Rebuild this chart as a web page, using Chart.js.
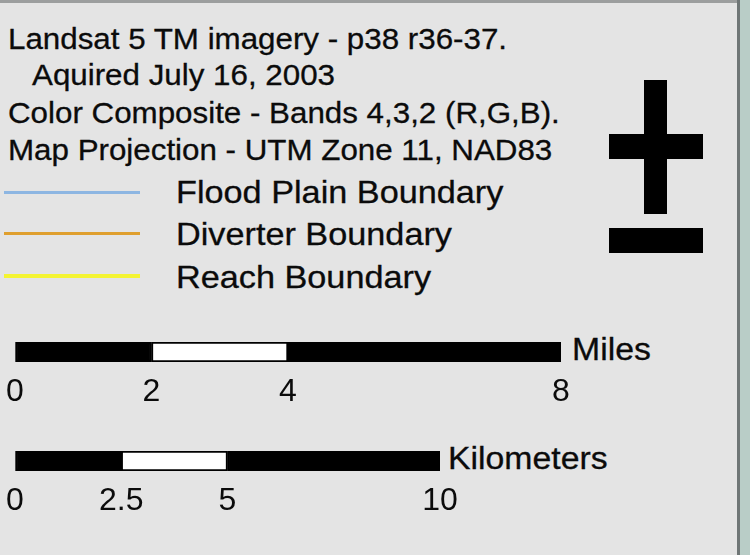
<!DOCTYPE html>
<html>
<head>
<meta charset="utf-8">
<script src="https://cdn.jsdelivr.net/npm/chart.js@4.4.1/dist/chart.umd.min.js"></script>
<style>
  html, body { margin: 0; padding: 0; }
  body { width: 750px; height: 555px; overflow: hidden; background: #e4e4e4; position: relative;
         font-family: "Liberation Sans", Arial, sans-serif; color: #0b0b0b; }
  .t { position: absolute; white-space: nowrap; line-height: 1; transform-origin: 0 0; -webkit-text-stroke: 0.3px #0b0b0b; }
  .h { font-size: 29px; transform: scaleX(1.08); }
  .lg { font-size: 32px; transform: scaleX(1.07); left: 176px; }
  .u { font-size: 31px; transform: scaleX(1.09); }
  .sw { position: absolute; left: 4px; width: 136px; }
  .blk { position: absolute; background: #000; }
  .cv { position: absolute; left: 0; top: 0; width: 750px; height: 555px; }
  #frameTop { position: absolute; left: 0; top: 0; width: 750px; height: 3px; background: #9c9e9e; }
  #frameRight { position: absolute; left: 737px; top: 0; width: 3px; height: 555px; background: #6f7676; }
  #outside { position: absolute; left: 740px; top: 0; width: 10px; height: 555px; background: #b9cdc7; }
</style>
</head>
<body>
<div id="frameTop"></div>
<div id="outside"></div>
<div id="frameRight"></div>

<div id="texts"></div>

<!-- north-arrow style symbol -->
<div class="blk" style="left:644px;top:80px;width:23px;height:134px;"></div>
<div class="blk" style="left:609px;top:134px;width:94px;height:25px;"></div>
<div class="blk" style="left:609px;top:228px;width:94px;height:25px;"></div>

<div class="cv"><canvas id="miles" width="750" height="555"></canvas></div>
<div class="cv"><canvas id="km" width="750" height="555"></canvas></div>

<script>
// ---- data ----
const headerLines = [
  "Landsat 5 TM imagery - p38 r36-37.",
  "  Aquired July 16, 2003",
  "Color Composite - Bands 4,3,2 (R,G,B).",
  "Map Projection - UTM Zone 11, NAD83"
];
const legendLabels = ["Flood Plain Boundary", "Diverter Boundary", "Reach Boundary"];
const unitLabels = ["Miles", "Kilometers"];
const mileTicks = [0, 2, 4, 8];
const kmTicks = [0, 2.5, 5, 10];

// ---- styles / layout (kept separate from data) ----
const headerPos = [[8, 24.5], [32, 60.5], [8, 98.5], [8, 135.5]];
const legendTops = [176, 218, 261];
const legendColors = ["#8db6e2", "#df9f2e", "#f4f432"];
const legendLineY = [190.5, 231.5, 274];
const legendLineH = [3, 3, 4];
const unitPos = [[572, 334], [448, 443]];
const segFills = ["#000000", "#ffffff", "#000000"];

const box = document.getElementById('texts');
function addText(cls, txt, x, y) {
  const d = document.createElement('div');
  d.className = 't ' + cls;
  d.textContent = txt.trim();
  d.style.left = x + 'px';
  d.style.top = y + 'px';
  box.appendChild(d);
}
headerLines.forEach((s, i) => addText('h', s, headerPos[i][0], headerPos[i][1]));
legendLabels.forEach((s, i) => {
  addText('lg', s, 176, legendTops[i]);
  const l = document.createElement('div');
  l.className = 'sw';
  l.style.top = legendLineY[i] + 'px';
  l.style.height = legendLineH[i] + 'px';
  l.style.background = legendColors[i];
  box.appendChild(l);
});
unitLabels.forEach((s, i) => addText('u', s, unitPos[i][0], unitPos[i][1]));

function scaleBar(id, label, ticks, pad) {
  const datasets = [];
  for (let i = 0; i < ticks.length - 1; i++) {
    datasets.push({
      label: label + ' ' + i,
      data: [[ticks[i], ticks[i + 1]]],
      backgroundColor: segFills[i % segFills.length],
      borderColor: '#000000',
      borderWidth: 2,
      borderSkipped: false,
      grouped: false,
      barPercentage: 1,
      categoryPercentage: 1
    });
  }
  return new Chart(document.getElementById(id), {
    type: 'bar',
    data: { labels: [label], datasets },
    options: {
      indexAxis: 'y',
      responsive: false,
      animation: false,
      devicePixelRatio: 1,
      layout: { padding: pad },
      plugins: { legend: { display: false }, tooltip: { enabled: false } },
      scales: {
        y: { display: false },
        x: {
          type: 'linear',
          min: ticks[0],
          max: ticks[ticks.length - 1],
          grid: { display: true, drawOnChartArea: false, drawTicks: true, tickLength: 6,
                  color: 'rgba(0,0,0,0)', tickColor: 'rgba(0,0,0,0)' },
          border: { display: false },
          afterBuildTicks: (ax) => { ax.ticks = ticks.map(v => ({ value: v })); },
          afterFit: (ax) => { ax.height = 44; },
          ticks: {
            autoSkip: false,
            maxRotation: 0,
            padding: 5,
            color: '#0b0b0b',
            font: { family: '"Liberation Sans", Arial, sans-serif', size: 32 },
            callback: (v) => String(v)
          }
        }
      }
    }
  });
}

scaleBar('miles', unitLabels[0], mileTicks, { left: 15, right: 750 - 561, top: 342, bottom: 555 - 362 - 44 });
scaleBar('km', unitLabels[1], kmTicks, { left: 15, right: 750 - 440, top: 451, bottom: 555 - 471 - 44 });
</script>
</body>
</html>
